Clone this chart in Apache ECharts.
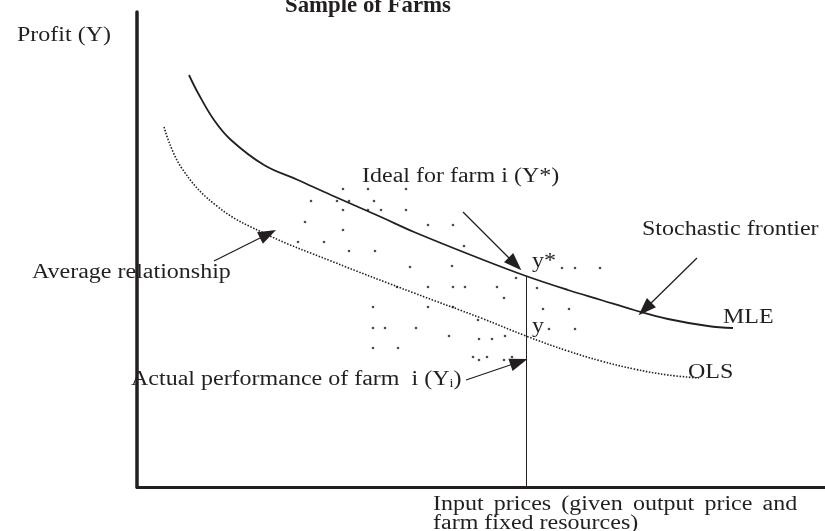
<!DOCTYPE html>
<html>
<head>
<meta charset="utf-8">
<script src="https://cdn.jsdelivr.net/npm/echarts@6/dist/echarts.min.js"></script>
<style>
  html, body { margin: 0; padding: 0; background: #fff; }
  #chart { width: 825px; height: 531px; }
</style>
</head>
<body>
<div id="chart"></div>
<script>
// values, in plot units (x from the profit axis, y up from the price axis)
const mleCurve = [[52,412],[61,394],[77,367],[94,347],[127,322],[161,307],[194,292],[244,270],[277,255],[344,228],[389,211],[431,197],[464,187],[497,177],[531,168],[571,161],[596,159]];
const olsCurve = [[27,360],[44,320],[81,280],[131,252],[194,226],[277,194],[344,169],[389,151],[431,136],[464,126],[497,118],[531,112],[562,109]];
const farms = [[206,298],[231,298],[269,298],[174,286],[200,286],[212,286],[237,286],[206,277],[231,277],[244,277],[269,277],
  [168,265],[291,262],[316,262],[206,257],[161,245],[187,245],[212,236],[238,236],[327,241],[273,220],[315,221],
  [260,200],[291,200],[316,200],[328,200],[360,200],[379,209],[400,199],[367,189],[236,180],[291,180],[316,180],
  [406,178],[432,178],[341,167],[236,159],[248,159],[279,159],[312,151],[342,148],[355,148],[368,151],[412,158],[438,158],
  [236,139],[261,139],[336,130],[342,127],[350,130],[367,127],[375,130],[425,219],[438,219],[463,219]];
// arrows: [from, to]
const arrows = [
  [[326,275],[378,223]],   // ideal for farm i
  [[560,229],[508,178]],   // stochastic frontier
  [[77,226],[131,253]],    // average relationship
  [[329,107],[382,125]]    // actual performance
];
const farmI = [[389,0],[389,211]];

const ink = '#231f20';
const serif = '"Liberation Serif", "Times New Roman", serif';

const chart = echarts.init(document.getElementById('chart'));

const txt = (x, y, text, extra) => ({
  type: 'text', x, y, scaleX: 1.2, z: 1,
  style: Object.assign({ text, font: '20px ' + serif, fill: ink, textAlign: 'left', textVerticalAlign: 'middle' }, extra || {})
});

// first line of the x caption is justified in the original, so its word gaps are a bit wider
const gap = { g: { font: '20px ' + serif, width: 8.5 } };

const option = {
  animation: false,
  backgroundColor: '#fff',
  grid: { left: 137, right: 0, top: 12, bottom: 44 },
  xAxis: {
    type: 'value', min: 0, max: 688,
    axisLine: { onZero: false, lineStyle: { color: ink, width: 3 } },
    axisTick: { show: false }, axisLabel: { show: false }, splitLine: { show: false }
  },
  yAxis: {
    type: 'value', min: 0, max: 475, z: 10,
    axisLine: { onZero: false, lineStyle: { color: ink, width: 3.5 } },
    axisTick: { show: false }, axisLabel: { show: false }, splitLine: { show: false }
  },
  graphic: [
    { type: 'text', x: 285, y: 6, scaleX: 0.95, z: 1, style: { text: 'Sample of Farms', font: 'bold 24px ' + serif, fill: ink, textAlign: 'left', textVerticalAlign: 'middle' } },
    txt(17, 36, 'Profit (Y)'),
    txt(362, 177, 'Ideal for farm i (Y*)'),
    txt(642, 230, 'Stochastic frontier'),
    txt(32, 273, 'Average relationship'),
    txt(723, 318, 'MLE'),
    txt(688, 373, 'OLS'),
    txt(532, 262, 'y*'),
    txt(532, 327, 'y'),
    txt(131, 380, 'Actual performance of farm  i (Y{s|i})', { rich: { s: { font: '12px ' + serif, fill: ink, verticalAlign: 'bottom' } } }),
    txt(433, 505, 'Input{g| }prices{g| }(given{g| }output{g| }price{g| }and', { rich: gap }),
    txt(433, 524, 'farm fixed resources)')
  ],
  series: [
    {
      name: 'MLE', type: 'line', data: mleCurve, smooth: 0.4, showSymbol: false, silent: true,
      lineStyle: { color: ink, width: 1.8 },
      markLine: {
        silent: true, symbol: 'none', label: { show: false },
        lineStyle: { color: ink, width: 1, type: 'solid' },
        data: [[{ coord: farmI[0] }, { coord: farmI[1] }]]
      }
    },
    {
      name: 'OLS', type: 'line', data: olsCurve, smooth: 0.4, showSymbol: false, silent: true,
      lineStyle: { color: ink, width: 1.6, type: [1.5, 1.6] }
    },
    {
      name: 'Farms', type: 'scatter', data: farms, symbolSize: 2.6, silent: true,
      itemStyle: { color: ink },
      markLine: {
        silent: true, symbol: ['none', 'triangle'], symbolSize: [13, 18], label: { show: false },
        lineStyle: { color: ink, width: 1.3, type: 'solid' },
        data: arrows.map(a => [{ coord: a[0] }, { coord: a[1] }])
      }
    }
  ]
};

chart.setOption(option);
</script>
</body>
</html>
